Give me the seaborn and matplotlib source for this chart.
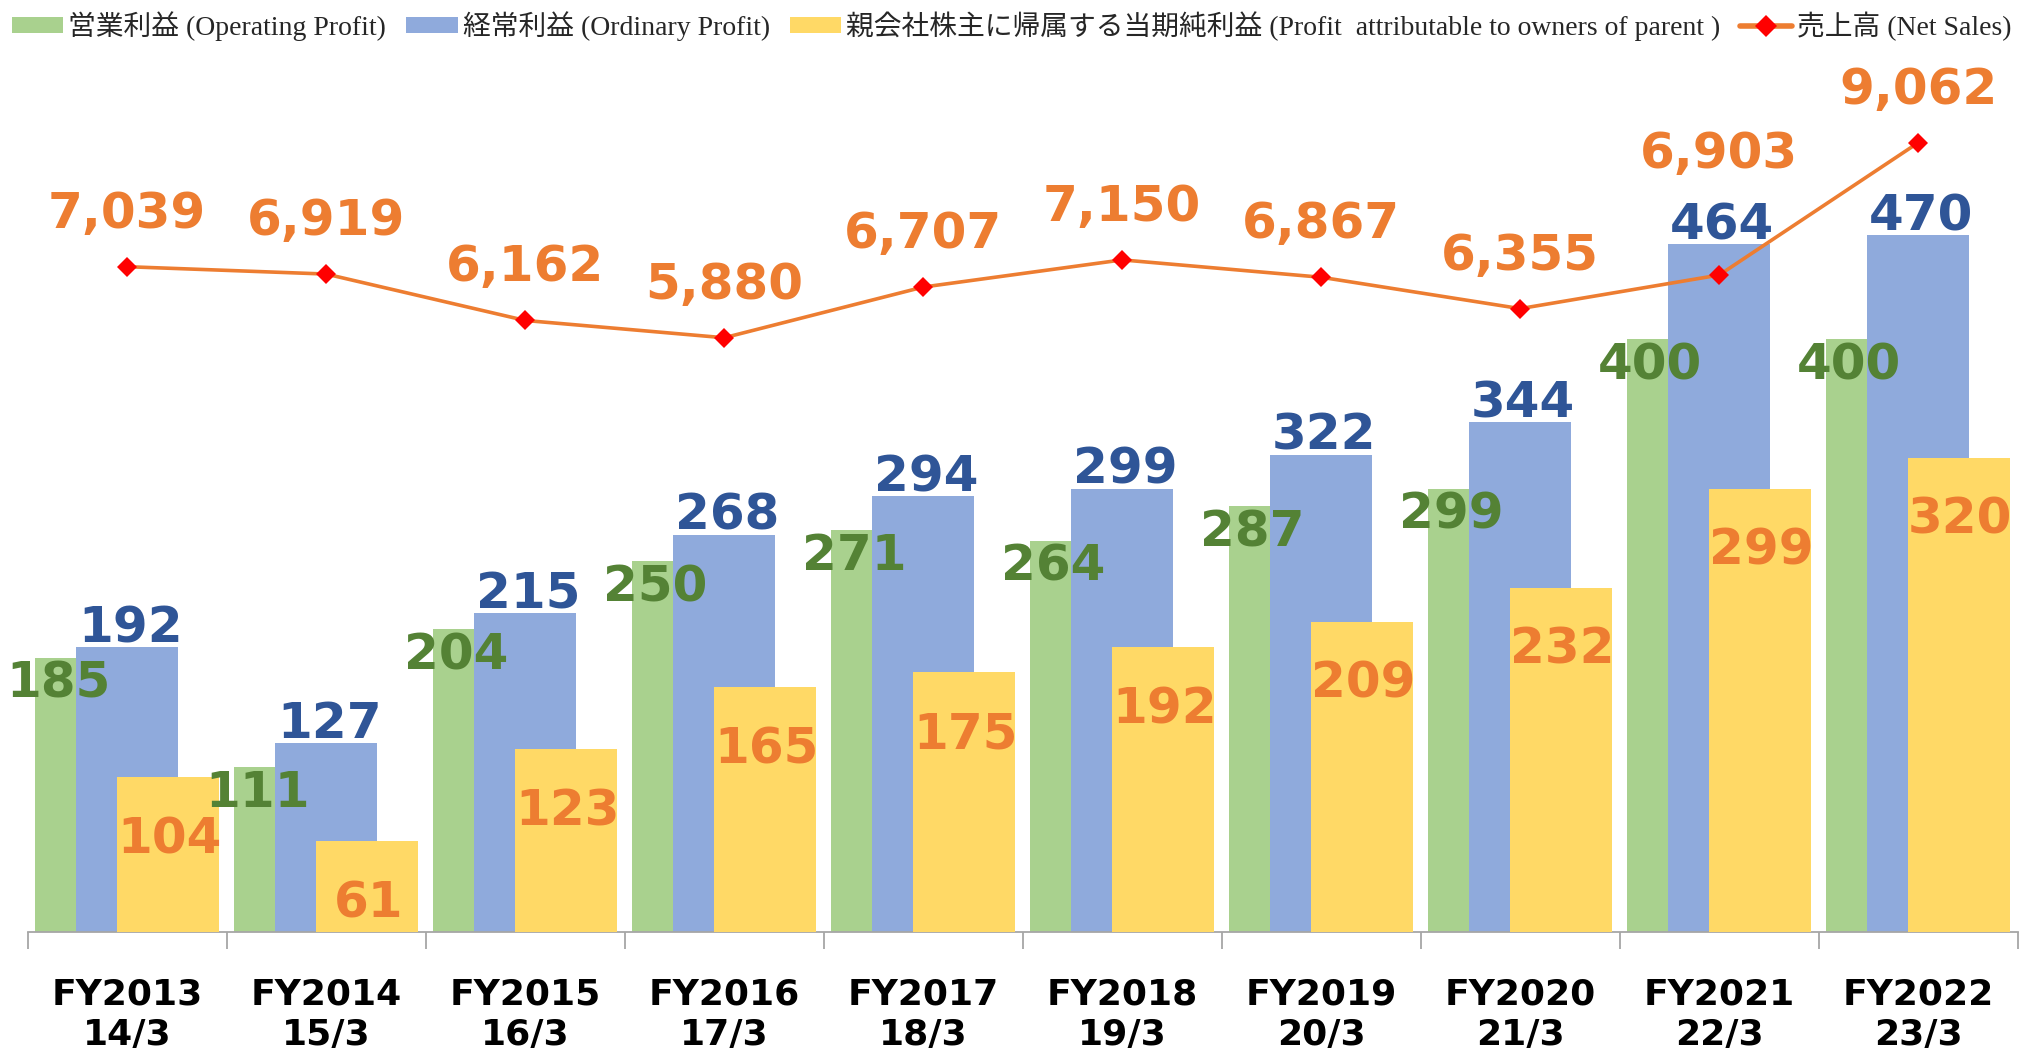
import numpy as np
import matplotlib
matplotlib.use("Agg")
import matplotlib.pyplot as plt
import seaborn as sns
from matplotlib.patches import Patch
from matplotlib.lines import Line2D
from matplotlib.font_manager import FontProperties

# data
years = ["FY2013\n14/3", "FY2014\n15/3", "FY2015\n16/3", "FY2016\n17/3", "FY2017\n18/3",
         "FY2018\n19/3", "FY2019\n20/3", "FY2020\n21/3", "FY2021\n22/3", "FY2022\n23/3"]
operating_profit = [185, 111, 204, 250, 271, 264, 287, 299, 400, 400]
ordinary_profit = [192, 127, 215, 268, 294, 299, 322, 344, 464, 470]
parent_profit = [104, 61, 123, 165, 175, 192, 209, 232, 299, 320]
net_sales = [7039, 6919, 6162, 5880, 6707, 7150, 6867, 6355, 6903, 9062]

series_names = ["営業利益 (Operating Profit)", "経常利益 (Ordinary Profit)",
                "親会社株主に帰属する当期純利益 (Profit  attributable to owners of parent )",
                "売上高 (Net Sales)"]

green, blue, yellow = "#A9D18E", "#8FAADC", "#FFD966"
green_txt, blue_txt, orange = "#548235", "#2F5597", "#ED7D31"

sns.set_theme(style="white")
plt.rcParams["font.family"] = ["DejaVu Sans", "Noto Sans CJK JP"]

fig = plt.figure(figsize=(20.24, 10.48), dpi=100)
W, H = 2024, 1048
ax = fig.add_axes([27.7 / W, (H - 931.5) / H, 1990 / W, 871.5 / H])
ax2 = ax.twinx()

x = np.arange(len(years))
shift = 0.206
bw = 0.51

# overlapping bars: green behind, blue middle, yellow in front
sns.barplot(x=x - shift, y=operating_profit, native_scale=True, width=bw, color=green,
            saturation=1, linewidth=0, errorbar=None, ax=ax, zorder=1)
sns.barplot(x=x, y=ordinary_profit, native_scale=True, width=bw, color=blue,
            saturation=1, linewidth=0, errorbar=None, ax=ax, zorder=2)
sns.barplot(x=x + shift, y=parent_profit, native_scale=True, width=bw, color=yellow,
            saturation=1, linewidth=0, errorbar=None, ax=ax, zorder=3)

sns.lineplot(x=x, y=net_sales, ax=ax2, color=orange, linewidth=2.6, marker="D",
             markersize=10, markerfacecolor="red", markeredgecolor="red",
             markeredgewidth=0, legend=False)

ax.set_xlim(-0.5, len(years) - 0.5)
ax.set_ylim(0, 588.5)
ax2.set_ylim(-3806, -3806 + 871.5 / 0.0613)

# value labels
num_font = dict(fontsize=36, fontweight="bold", family="DejaVu Sans")
for i in range(len(years)):
    ax.annotate(f"{operating_profit[i]}", (x[i] - shift, operating_profit[i]),
                xytext=(-28, -40), textcoords="offset pixels", ha="center", va="baseline",
                color=green_txt, zorder=10, **num_font)
    ax.annotate(f"{ordinary_profit[i]}", (x[i], ordinary_profit[i]),
                xytext=(3, 5), textcoords="offset pixels", ha="center", va="baseline",
                color=blue_txt, zorder=10, **num_font)
    ax.annotate(f"{parent_profit[i]}", (x[i] + shift, parent_profit[i]),
                xytext=(1, -76), textcoords="offset pixels", ha="center", va="baseline",
                color=orange, zorder=10, **num_font)
    lift = 107 if i == 8 else 39
    ax2.annotate(f"{net_sales[i]:,}", (x[i], net_sales[i]),
                 xytext=(0, lift), textcoords="offset pixels", ha="center", va="baseline",
                 color=orange, zorder=10, **num_font)

# category axis with separators between groups
for a in (ax, ax2):
    for s in ["top", "left", "right"]:
        a.spines[s].set_visible(False)
    a.set_yticks([])
ax2.spines["bottom"].set_visible(False)
ax.spines["bottom"].set_color("#A6A6A6")
ax.spines["bottom"].set_linewidth(1.3)
ax.set_xticks(x)
ax.set_xticklabels(years, fontsize=26, fontweight="bold", linespacing=1.22)
ax.set_xticks(np.arange(-0.5, len(years)), minor=True)
ax.tick_params(axis="x", which="major", length=0, pad=33, colors="black")
ax.tick_params(axis="x", which="minor", length=12, width=1.3, color="#A6A6A6", bottom=True)
ax.set_xlabel("")
ax.set_ylabel("")
ax2.set_ylabel("")

# legend across the top
handles = [Patch(facecolor=green, edgecolor="none"),
           Patch(facecolor=blue, edgecolor="none"),
           Patch(facecolor=yellow, edgecolor="none"),
           Line2D([], [], color=orange, linewidth=4, marker="D", markersize=11,
                  markerfacecolor="red", markeredgecolor="red", markeredgewidth=0)]
leg_font = FontProperties(family=["Liberation Serif", "Noto Sans CJK JP"], size=20)
fig.legend(handles, series_names, loc="center left", bbox_to_anchor=(12 / W, 1 - 26 / H),
           ncol=4, frameon=False, prop=leg_font, handlelength=1.85, handleheight=0.5,
           handletextpad=0.18, columnspacing=0.72, borderpad=0, borderaxespad=0)

fig.savefig("out.png", dpi=100)
